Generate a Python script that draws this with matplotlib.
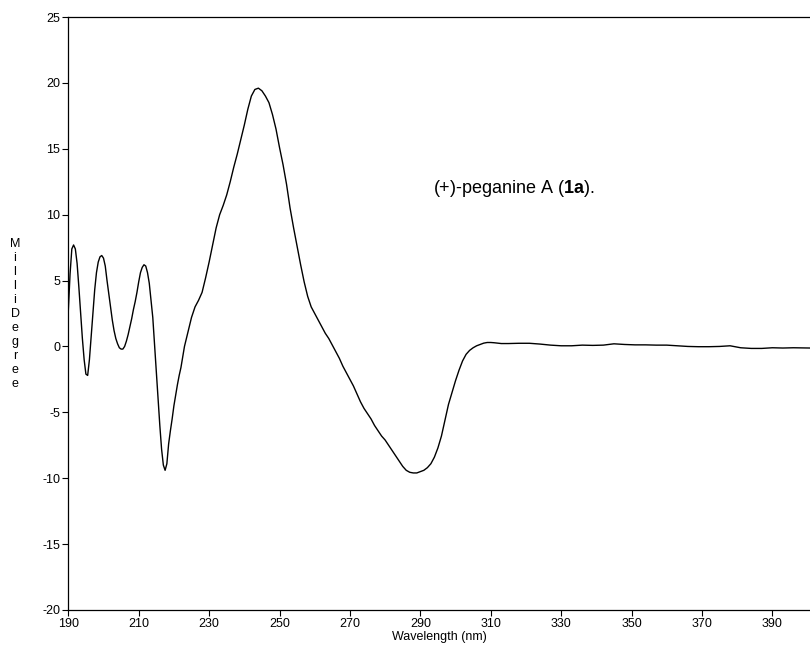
import matplotlib
matplotlib.use("Agg")
import matplotlib.pyplot as plt

# Datos del espectro CD
longitud_onda = [
    190, 190.5, 191, 191.5, 192, 192.5, 193, 193.5, 194, 194.5, 195, 195.5,
    196, 196.5, 197, 197.5, 198, 198.5, 199, 199.5, 200, 200.5, 201, 201.5,
    202, 202.5, 203, 203.5, 204, 204.5, 205, 205.5, 206, 206.5, 207, 207.5,
    208, 208.5, 209, 209.5, 210, 210.5, 211, 211.5, 212, 212.5, 213, 213.5,
    214, 214.5, 215, 215.5, 216, 216.5, 217, 217.5, 218, 218.5, 219, 219.5,
    220, 220.5, 221, 221.5, 222, 223, 224, 225, 226, 227, 228, 229, 230,
    231, 232, 233, 234, 235, 236, 237, 238, 239, 240, 241, 242,
    243, 244, 245, 246, 247, 248, 249, 250, 251, 252, 253, 254,
    255, 256, 257, 258, 259, 260, 261, 262, 263, 264, 265, 266,
    267, 268, 269, 270, 271, 272, 273, 274, 275, 276, 277, 278,
    279, 280, 281, 282, 283, 284, 285, 286, 287, 288, 289, 290,
    291, 292, 293, 294, 295, 296, 297, 298, 299, 300, 301, 302,
    303, 304, 305, 306, 307, 308, 309, 310, 311, 313, 315, 318,
    321, 324, 327, 330, 333, 336, 339, 342, 345, 348, 351, 354,
    357, 360, 363, 366, 369, 372, 375, 378, 381, 384, 387, 390,
    393, 396, 400.7,
]
mili_grados = [
    2.7, 5.5, 7.4, 7.7, 7.4, 6.3, 4.5, 2.5, 0.6, -1.0, -2.1, -2.2,
    -1.0, 0.8, 2.6, 4.3, 5.6, 6.4, 6.8, 6.9, 6.7, 6.1, 5.0, 4.0,
    3.0, 2.0, 1.2, 0.6, 0.2, -0.1, -0.2, -0.2, 0.0, 0.4, 0.9, 1.5,
    2.1, 2.8, 3.4, 4.1, 4.9, 5.6, 6.0, 6.2, 6.1, 5.6, 4.8, 3.5,
    2.2, 0.2, -1.9, -4.0, -6.0, -7.8, -9.0, -9.4, -8.9, -7.4, -6.4, -5.5,
    -4.5, -3.7, -2.9, -2.2, -1.6, 0.0, 1.1, 2.2, 3.0, 3.5, 4.1, 5.2, 6.4,
    7.7, 9.0, 10.0, 10.7, 11.5, 12.5, 13.6, 14.6, 15.7, 16.8, 18.0, 19.0,
    19.5, 19.6, 19.4, 19.0, 18.5, 17.6, 16.5, 15.1, 13.8, 12.3, 10.5, 9.0,
    7.6, 6.2, 4.9, 3.8, 3.0, 2.5, 2.0, 1.5, 1.0, 0.6, 0.1, -0.4,
    -0.9, -1.5, -2.0, -2.5, -3.0, -3.6, -4.2, -4.7, -5.1, -5.5, -6.0, -6.4,
    -6.8, -7.1, -7.5, -7.9, -8.3, -8.7, -9.1, -9.4, -9.55, -9.6, -9.6, -9.5,
    -9.4, -9.2, -8.9, -8.4, -7.7, -6.8, -5.6, -4.4, -3.5, -2.6, -1.8, -1.1,
    -0.6, -0.3, -0.1, 0.05, 0.15, 0.25, 0.3, 0.3, 0.28, 0.22, 0.22, 0.24,
    0.24, 0.18, 0.1, 0.05, 0.05, 0.1, 0.08, 0.1, 0.2, 0.15, 0.12, 0.12,
    0.1, 0.1, 0.05, 0.0, -0.02, -0.02, 0.0, 0.05, -0.1, -0.15, -0.15, -0.1,
    -0.12, -0.1, -0.12,
]
ticks_x = [190, 210, 230, 250, 270, 290, 310, 330, 350, 370, 390]
ticks_y = [-20, -15, -10, -5, 0, 5, 10, 15, 20, 25]

plt.rcParams['font.family'] = ['Liberation Sans', 'DejaVu Sans']
plt.rcParams['axes.unicode_minus'] = False
plt.rcParams['mathtext.fontset'] = 'custom'
plt.rcParams['mathtext.rm'] = 'Liberation Sans'
plt.rcParams['mathtext.bf'] = 'Liberation Sans:bold'

fig = plt.figure(figsize=(8.1, 6.52), dpi=100)
ax = fig.add_axes([68.3 / 810, 42 / 652, (810 - 68.3) / 810, 593 / 652])

ax.plot(longitud_onda, mili_grados, color='black', linewidth=1.0)

ax.set_xlim(190, 400.7)
ax.set_ylim(-20, 25)
ax.set_xticks(ticks_x)
ax.set_yticks(ticks_y)
ax.tick_params(direction='out', length=4.3, width=0.8, labelsize=9, pad=1.5)
ax.spines['right'].set_visible(False)
for s in ['left', 'bottom', 'top']:
    ax.spines[s].set_linewidth(0.9)

ax.set_xlabel('Wavelength (nm)', fontsize=9, labelpad=1)

# Etiqueta vertical con letras apiladas
fig.text(15 / 810, 1 - 314 / 652, "\n".join("MilliDegree"), fontsize=9,
         ha='center', va='center', linespacing=1.23)

ax.text(293.5, 12.0, r'(+)-peganine A ($\mathbf{1a}$).', fontsize=13,
        ha='left', va='center')

fig.savefig("out.png", dpi=100)
